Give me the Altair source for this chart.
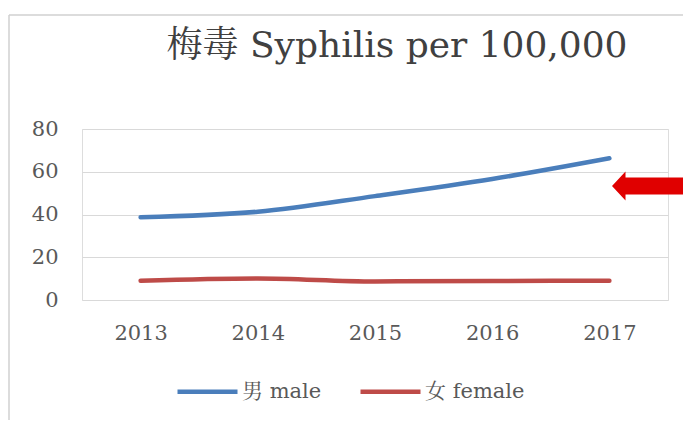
import altair as alt
import pandas as pd

years = ["2013", "2014", "2015", "2016", "2017"]
male = [38.7, 41.3, 48.6, 56.6, 66.3]
female = [9.0, 10.1, 8.7, 8.9, 9.0]
series_names = ["男 male", "女 female"]
series_colors = ["#4A7EBB", "#BE4B48"]
title_text = "梅毒 Syphilis per 100,000"
y_ticks = [0, 20, 40, 60, 80]

rows = []
for y, m, f in zip(years, male, female):
    rows.append({"year": y, "value": m, "series": series_names[0]})
    rows.append({"year": y, "value": f, "series": series_names[1]})
df = pd.DataFrame(rows)

FONT = "DejaVu Serif, Noto Serif CJK SC, Noto Sans CJK SC"
W, H = 586, 171

lines = alt.Chart(df).mark_line(strokeWidth=4.5, strokeCap="round", interpolate="monotone").encode(
    x=alt.X("year:O", scale=alt.Scale(type="point", padding=0.5),
            axis=alt.Axis(title=None, labelAngle=0, ticks=False, domain=False,
                          labelPadding=22, labelFontSize=21, labelFont=FONT,
                          labelColor="#595959", grid=False)),
    y=alt.Y("value:Q", scale=alt.Scale(domain=[0, 80], nice=False),
            axis=alt.Axis(title=None, values=y_ticks, ticks=False, domain=False,
                          labelPadding=24, labelFontSize=21, labelFont=FONT,
                          labelColor="#595959", gridColor="#D9D9D9", gridWidth=1.2)),
    color=alt.Color("series:N", sort=series_names,
                    scale=alt.Scale(domain=series_names, range=series_colors),
                    legend=alt.Legend(title=None, orient="none", direction="horizontal",
                                      legendX=93, legendY=230, symbolType="stroke",
                                      symbolSize=3600, symbolStrokeWidth=4.5,
                                      labelFontSize=21, labelFont=FONT, labelColor="#595959",
                                      columnPadding=29, labelOffset=2)),
)

border = pd.DataFrame({"k": [0]})
left_border = alt.Chart(border).mark_rule(color="#D0D0D0", strokeWidth=1.5).encode(
    x=alt.value(-73), y=alt.value(-114), y2=alt.value(H + 140))
top_border = alt.Chart(border).mark_rule(color="#D0D0D0", strokeWidth=1.5).encode(
    x=alt.value(-73), x2=alt.value(W + 40), y=alt.value(-114))

arrow_path = "M -1 0 L -0.7 -0.32 L -0.7 -0.19 L 1 -0.19 L 1 0.19 L -0.7 0.19 L -0.7 0.32 Z"
arrow = alt.Chart(border).mark_point(shape=arrow_path, filled=True, color="#E00000",
                                     opacity=1, size=8100, strokeWidth=0).encode(
    x=alt.value(575), y=alt.value(57))

title = alt.Chart(border).mark_text(text=title_text, fontSize=36, font=FONT,
                                    color="#404040", align="center", baseline="middle").encode(
    x=alt.value(315), y=alt.value(-83))

chart = alt.layer(left_border, top_border, lines, arrow, title).properties(
    width=W, height=H,
    autosize=alt.AutoSizeParams(type="none"),
    padding={"left": 74, "top": 121, "right": 15, "bottom": 120},
).configure_view(stroke=None).configure(background="white")

chart.save("out.html", embed_options={"renderer": "svg", "actions": False})
